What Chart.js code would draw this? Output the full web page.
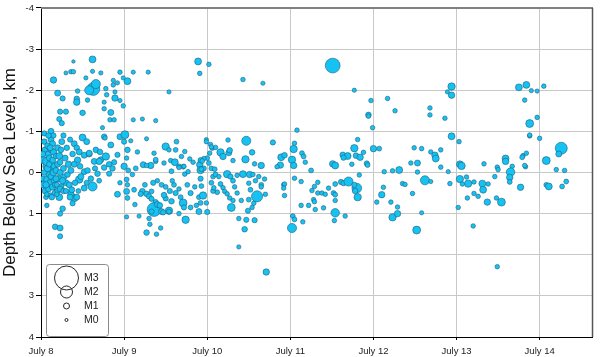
<!DOCTYPE html>
<html><head><meta charset="utf-8">
<script src="https://cdn.jsdelivr.net/npm/chart.js@4.4.1/dist/chart.umd.min.js"></script>
<style>html,body{margin:0;padding:0;background:#fff}#c{display:block}</style>
</head><body>
<canvas id="c" width="600" height="357"></canvas>
<script>
// [day of July (decimal), depth below sea level km, magnitude]
const july8 = [
[8.62,-2.75,1.2],[8.39,-2.7,0.2],[8.36,-2.45,0.6],[8.39,-2.45,0.6],[8.30,-2.42,0.4],[8.15,-2.25,1.1],
[8.62,-2.46,0.5],[8.72,-2.42,0.5],[8.63,-2.03,2.1],[8.66,-2.15,1.6],[8.58,-2.0,1.6],[8.54,-2.3,0.5],
[8.44,-1.98,0.6],[8.2,-1.93,1.0],[8.26,-1.8,0.8],[8.43,-1.79,0.9],[8.43,-1.71,1.1],[8.56,-1.76,0.6],
[8.78,-2.04,0.6],[8.79,-1.89,0.6],[8.76,-1.71,0.5],[8.89,-1.81,1.1],[8.89,-1.96,0.5],[8.87,-2.13,0.6],
[8.87,-2.24,0.5],[8.92,-2.18,0.5],[8.95,-2.44,0.6],[8.99,-2.3,0.5],[8.95,-1.75,0.5],[8.99,-1.62,0.6],
[8.23,-1.48,0.8],[8.3,-1.48,0.8],[8.5,-1.45,0.9],[8.76,-1.55,0.6],[8.84,-1.46,1.0],[8.83,-1.28,0.6],
[8.88,-1.28,0.6],[8.22,-1.3,0.8],[8.25,-1.2,0.8],[8.74,-1.09,0.5],[8.12,-1.0,1.0],[8.76,-0.87,0.9],
[8.77,-0.84,0.6],[8.95,-0.87,1.0],
[8.03,-0.3,1.3],[8.04,0.0,1.0],[8.03,0.3,1.2],[8.05,-0.55,1.0],[8.06,-0.15,1.1],[8.02,0.15,0.8],
[8.05,0.45,1.0],[8.04,-0.75,0.9],[8.06,0.6,0.7],[8.07,-0.27,1.5],[8.08,0.17,1.4],[8.13,-0.1,1.3],
[8.08,-0.65,1.0],[8.09,-0.45,1.1],[8.1,-0.35,1.0],[8.08,-0.1,1.2],[8.1,0.05,1.0],[8.11,0.25,1.1],
[8.09,0.4,1.0],[8.12,-0.8,1.0],[8.12,-0.55,0.9],[8.1,-0.2,0.9],[8.11,0.55,0.7],[8.07,0.8,0.6],
[8.12,0.1,1.0],[8.14,-0.7,1.0],[8.15,-0.5,1.1],[8.14,-0.3,1.0],[8.16,-0.15,1.1],[8.15,0.0,1.2],
[8.16,0.2,1.0],[8.14,0.35,1.1],[8.17,0.5,1.0],[8.15,-0.9,0.8],[8.18,-0.4,0.9],[8.18,-0.05,1.0],
[8.17,0.3,0.9],[8.13,0.6,0.9],[8.2,-0.6,1.0],[8.22,-0.4,1.2],[8.2,-0.2,1.0],[8.23,0.0,1.0],
[8.21,0.15,1.1],[8.24,0.35,1.0],[8.2,0.45,0.9],[8.25,-0.75,1.0],[8.24,-0.55,0.9],[8.23,-0.25,0.9],
[8.22,0.6,1.2],[8.19,0.3,0.8],[8.27,-0.1,1.0],[8.28,0.1,0.9],[8.29,-0.35,1.0],[8.3,0.25,1.0],
[8.31,-0.6,0.9],[8.33,-0.2,1.1],[8.32,0.05,0.9],[8.34,0.3,1.0],[8.27,-0.9,0.8],[8.35,-0.8,0.8],
[8.36,-0.05,1.0],[8.02,-0.45,1.0],[8.06,0.3,1.1],[8.04,-0.95,0.8],[8.26,0.2,1.1],[8.18,0.15,1.0],
[8.11,-0.6,1.0],[8.09,-0.9,0.9],
[8.62,0.34,1.6],[8.46,0.17,1.3],[8.4,0.62,1.3],[8.36,0.53,1.1],[8.5,-0.85,1.2],[8.55,-0.75,1.0],
[8.4,-0.7,1.0],[8.43,-0.6,0.9],[8.46,-0.5,1.0],[8.38,-0.45,0.9],[8.44,-0.3,1.1],[8.52,-0.42,1.0],
[8.58,-0.45,1.0],[8.64,-0.27,1.0],[8.72,-0.31,1.0],[8.76,-0.12,0.9],[8.52,-0.02,1.0],[8.56,-0.05,0.9],
[8.68,0.03,0.9],[8.82,0.03,0.8],[8.23,0.4,1.0],[8.27,0.45,0.9],[8.37,0.42,1.0],[8.52,0.38,1.0],
[8.92,0.53,1.0],[8.07,0.53,0.6],[8.19,0.53,0.6],[8.26,0.88,0.9],[8.23,1.0,0.8],[8.17,1.32,0.9],
[8.23,1.35,1.0],[8.23,1.55,0.8],[8.35,0.6,1.0],[8.43,0.6,1.0],[8.38,0.75,0.8],[8.58,-0.47,1.0],
[8.66,-0.55,0.9],[8.71,-0.5,0.9],[8.78,-0.39,1.3],[8.7,-0.27,1.1],[8.82,-0.2,0.9],[8.86,-0.1,0.9],
[8.88,-0.25,0.8],[8.84,-0.67,1.0],[8.92,-0.43,0.8],[8.48,0.1,1.0],[8.6,0.15,0.9],[8.55,0.25,0.8],
[8.7,0.2,0.7],[8.65,-0.1,0.8],[8.47,-0.15,0.9],[8.4,-0.2,1.0],[8.41,0.25,0.9],[8.3,0.45,0.8],
[8.45,0.45,0.7],[8.95,0.25,0.6]
];
const july9 = [
[9.04,-2.22,1.2],[9.11,-2.44,0.5],[9.29,-2.44,0.5],[9.54,-1.96,0.5],[9.11,-1.28,0.5],[9.22,-1.3,0.5],
[9.38,-1.26,0.5],[9.01,-0.92,1.4],[9.27,-0.82,0.5],
[9.03,-0.35,0.6],[9.0,-0.75,0.8],[9.04,-0.55,0.9],[9.16,-0.5,0.6],[9.36,-0.47,0.6],[9.23,-0.19,1.0],
[9.14,-0.1,0.7],[9.0,-0.15,1.1],[9.38,-0.27,0.6],[9.66,-0.15,0.7],[9.71,-0.14,0.7],[9.57,-0.03,0.7],
[9.08,-0.77,0.5],[9.5,-0.63,1.3],[9.63,-0.75,0.7],[9.62,-0.55,0.7],[9.56,-0.29,0.6],[9.61,-0.25,1.2],
[9.66,-0.12,0.6],[9.72,-0.15,0.6],[9.73,0.04,0.6],[9.77,-0.02,0.6],[9.91,-0.19,1.1],[9.92,-0.06,1.3],
[9.96,-0.1,0.7],[9.32,-0.17,1.1],[9.27,-0.17,0.6],[9.38,-0.31,0.7],[9.48,-0.23,0.6],[9.69,-0.39,0.6],
[9.73,-0.51,0.6],[9.79,-0.33,0.6],[9.83,-0.25,0.6],[9.54,-0.55,0.6],[9.05,-0.05,0.7],[9.1,0.05,0.6],
[9.03,0.17,0.7],[9.04,0.3,0.6],[9.03,0.46,1.0],[9.04,0.62,0.7],[9.12,0.42,0.7],[9.13,0.78,0.6],
[9.03,1.08,0.5],[9.18,1.06,0.5],[9.22,0.46,1.0],[9.2,0.52,0.8],[9.27,0.52,0.9],[9.3,0.58,0.8],
[9.33,0.46,0.7],[9.33,0.64,0.8],[9.38,0.72,0.8],[9.36,0.9,2.2],[9.4,0.78,1.0],[9.45,0.95,1.0],
[9.33,0.95,0.8],[9.43,0.8,0.9],[9.54,0.93,1.3],[9.47,0.97,0.8],[9.3,1.12,0.6],[9.31,1.26,0.6],
[9.27,1.46,0.9],[9.39,1.5,0.6],[9.44,1.35,0.6],[9.5,0.63,0.8],[9.57,0.7,0.9],[9.54,0.95,0.7],
[9.66,1.0,0.6],[9.71,0.74,1.4],[9.72,0.85,0.8],[9.74,1.15,1.3],[9.8,0.85,0.7],[9.87,0.8,0.6],
[9.5,0.35,0.7],[9.55,0.45,0.8],[9.6,0.3,0.7],[9.62,0.5,0.8],[9.66,0.4,0.6],[9.45,0.3,0.7],
[9.4,0.2,0.6],[9.35,0.25,0.8],[9.76,0.3,0.7],[9.8,0.5,0.8],[9.85,0.35,0.6],[9.68,0.6,0.7],
[9.58,0.2,0.6],[9.25,0.3,0.7],[9.48,0.55,0.9],[9.9,0.6,0.7]
];
const july10 = [
[9.89,-2.7,1.2],[10.02,-2.63,0.6],[9.91,-2.41,0.6],[10.43,-2.26,0.6],[10.67,-2.17,0.5],
[10.0,-0.35,0.7],[10.02,-0.23,0.7],[10.06,-0.59,0.6],[9.99,-0.8,0.5],
[9.99,-0.75,0.6],[10.04,-0.68,0.6],[10.1,-0.61,0.6],[10.25,-0.79,0.6],[10.47,-0.77,1.6],[10.16,-0.49,1.3],
[10.19,-0.39,1.1],[10.26,-0.48,1.0],[10.27,-0.54,0.9],[10.03,-0.47,0.6],[9.96,-0.34,0.6],[10.31,-0.29,0.6],
[10.46,-0.32,1.3],[10.54,-0.49,0.9],[10.57,-0.21,0.6],[10.65,-0.17,1.1],[10.79,-0.73,0.8],[10.89,-0.37,1.2],
[10.93,-0.42,0.9],[10.88,-0.18,1.1],[10.84,-0.14,0.6],[9.92,-0.3,0.8],[9.94,-0.28,0.7],[9.93,-0.08,0.7],
[10.05,-0.1,0.7],[10.09,-0.08,0.7],[10.05,-0.62,0.6],
[9.92,0.15,0.8],[9.93,0.33,0.7],[9.95,0.56,1.3],[9.92,0.74,0.7],[9.99,0.74,0.6],[9.9,0.95,1.0],
[10.0,0.96,0.8],[10.07,0.1,0.7],[10.05,0.25,0.7],[10.1,0.05,0.7],[10.14,0.1,0.6],[10.16,0.28,0.7],
[10.19,0.37,0.6],[10.21,0.46,0.6],[10.24,0.52,0.6],[10.12,0.48,0.7],[10.07,0.45,0.7],[10.08,0.37,0.6],
[10.24,0.04,1.3],[10.28,0.1,0.8],[10.31,0.2,0.7],[10.33,0.35,0.6],[10.36,0.5,0.6],[10.31,0.68,0.6],
[10.41,0.68,0.6],[10.29,0.85,1.4],[10.27,0.62,0.6],[10.43,0.04,1.2],[10.51,0.05,1.1],[10.5,0.26,0.6],
[10.52,0.42,0.7],[10.5,0.66,0.7],[10.49,0.93,0.8],[10.47,1.15,0.8],[10.45,1.38,0.9],[10.6,0.58,1.9],
[10.65,0.3,0.7],[10.65,0.35,0.6],[10.7,0.53,0.6],[10.69,0.16,0.6],[10.57,1.16,0.8],[10.38,1.12,0.6],
[10.38,1.81,0.5],[10.71,2.42,1.1],[10.36,0.07,0.6],[10.56,0.75,0.6],[10.54,0.85,0.6],[10.58,0.2,0.6],
[10.55,0.05,0.6],[10.62,0.1,0.6],[10.92,0.3,0.6],[10.93,0.28,0.6],[10.92,0.38,0.6],[10.93,0.56,0.6]
];
const july11 = [
[11.51,-2.6,2.3],[11.77,-2.0,0.5],[11.97,-1.75,0.6],[11.94,-1.4,0.9],[11.94,-1.37,0.6],[11.99,-1.09,0.6],
[11.08,-1.03,0.6],[11.05,-0.71,0.6],[11.04,-0.57,1.3],[11.02,-0.31,1.3],[11.04,-0.17,1.1],[11.14,-0.47,0.7],
[11.16,-0.39,0.7],[11.18,-0.25,0.6],[11.25,-0.05,0.7],[11.51,-0.21,1.1],[11.54,-0.17,1.2],[11.63,-0.43,0.9],
[11.69,-0.4,1.2],[11.64,-0.36,0.8],[11.77,-0.59,1.3],[11.81,-0.8,0.6],[11.79,-0.41,0.9],[11.84,-0.37,1.1],
[11.88,-0.49,0.6],[11.92,-0.22,0.8],[11.93,-0.18,0.7],[11.83,0.06,0.6],[12.0,-0.58,1.1],[12.07,-0.58,0.7],
[11.74,-0.2,0.6],
[11.05,0.14,0.6],[11.13,0.22,0.6],[11.03,1.06,0.7],[11.05,1.14,0.7],[11.02,1.35,1.6],[11.15,1.2,0.6],
[11.13,0.8,0.6],[11.22,0.8,0.6],[11.26,0.44,0.6],[11.29,0.34,0.6],[11.33,0.24,0.6],[11.28,0.66,0.6],
[11.29,0.71,0.6],[11.33,0.5,0.6],[11.38,0.5,0.6],[11.42,0.53,0.6],[11.46,0.38,0.6],[11.4,0.86,0.6],
[11.3,0.9,0.6],[11.54,0.28,0.7],[11.52,0.5,0.7],[11.54,0.54,0.7],[11.54,0.68,0.6],[11.54,0.98,1.5],
[11.53,1.17,0.6],[11.66,1.06,0.6],[11.61,0.23,0.8],[11.64,0.26,0.8],[11.7,0.22,1.6],[11.8,0.38,1.7],
[11.81,0.6,1.3],[11.78,0.45,0.9],[11.77,0.3,0.8]
];
const july12 = [
[12.13,-0.02,0.6],[12.23,-0.04,0.6],[12.17,-1.8,0.6],[12.26,-1.5,0.6],[12.1,0.54,1.1],[12.04,0.72,0.6],
[12.12,0.36,0.6],[12.21,0.72,0.6],[12.23,1.09,1.3],[12.29,0.84,0.6],[12.29,1.0,1.1],[12.94,-2.09,1.3],
[12.89,-1.96,0.5],[12.94,-1.88,1.1],[12.68,-1.57,0.6],[12.68,-1.4,0.6],[12.86,-1.32,0.6],[12.94,-0.88,1.2],
[12.49,-0.6,0.6],[12.58,-0.58,0.6],[12.69,-0.5,0.6],[12.74,-0.42,1.1],[12.75,-0.34,1.2],[12.81,-0.55,0.6],
[12.45,-0.23,0.6],[12.53,-0.23,1.0],[12.31,-0.06,1.2],[12.53,-0.01,0.6],[12.81,-0.13,0.6],[12.9,-0.02,0.5],
[12.35,0.27,0.6],[12.38,0.29,0.6],[12.62,0.19,1.6],[12.69,0.22,0.5],[12.47,0.51,0.6],[12.58,0.98,0.5],
[12.52,1.4,1.4],[12.92,0.27,0.6]
];
const july13 = [
[13.03,-0.75,0.6],[13.04,-0.2,1.2],[13.06,-0.16,1.3],[13.33,-0.21,0.6],[13.49,-0.13,0.6],[13.5,-0.07,0.6],
[13.59,-0.34,1.2],[13.59,-0.27,1.1],[13.67,-0.15,0.6],[13.8,-0.41,0.6],[13.79,-0.37,0.7],[13.84,-0.47,0.6],
[13.83,-0.14,0.6],[13.82,-0.17,0.6],[13.65,-0.01,1.5],[13.88,-0.89,0.6],[14.0,-0.83,0.6],[14.08,-0.29,1.4],
[14.26,-0.59,2.0],[14.23,-0.45,1.0],[14.2,-0.07,0.6],[14.3,-0.05,0.6],[13.75,-2.07,1.2],[13.84,-2.13,1.2],
[13.9,-1.99,0.5],[13.97,-1.98,0.5],[14.05,-2.1,0.6],[13.82,-1.76,0.6],[13.97,-1.34,0.6],[13.88,-1.19,1.4],
[13.88,-0.91,0.6],[13.04,0.16,1.3],[13.07,0.28,0.6],[13.12,0.11,0.6],[13.14,0.27,1.3],[13.21,0.23,0.6],
[13.21,0.51,0.6],[13.26,0.58,0.6],[13.13,0.62,0.6],[13.31,0.27,1.2],[13.32,0.42,1.2],[13.38,0.28,0.6],
[13.37,0.72,1.1],[13.46,0.1,0.6],[13.48,0.62,0.6],[13.54,0.72,1.4],[13.64,0.12,1.1],[13.64,0.23,0.7],
[13.77,0.36,1.1],[14.08,0.3,0.7],[14.11,0.34,1.2],[14.27,0.34,0.7],[14.32,0.22,0.7],[13.02,0.85,0.6],
[13.2,1.3,0.6],[13.49,2.29,0.6]
];
const dayTicks = [8, 9, 10, 11, 12, 13, 14];
const dayLabels = ['July 8', 'July 9', 'July 10', 'July 11', 'July 12', 'July 13', 'July 14'];
const depthTicks = [-4, -3, -2, -1, 0, 1, 2, 3, 4];
const legendMags = [3, 2, 1, 0];
const legendLabels = ['M3', 'M2', 'M1', 'M0'];

const FONT = '"Liberation Sans", Arial, sans-serif';
const radiusOf = m => 1.5 * Math.pow(2, m);
const allQuakes = [].concat(july8, july9, july10, july11, july12, july13);

const framePlugin = {
  id: 'frame',
  afterDraw(chart) {
    const {ctx, chartArea: a} = chart;
    ctx.save();
    ctx.strokeStyle = '#808080';
    ctx.lineWidth = 2;
    ctx.beginPath(); ctx.moveTo(a.left, a.top); ctx.lineTo(a.right + 1, a.top); ctx.stroke();
    ctx.strokeStyle = '#555';
    ctx.lineWidth = 1.5;
    ctx.beginPath(); ctx.moveTo(a.right + 0.5, a.top); ctx.lineTo(a.right + 0.5, a.bottom); ctx.stroke();
    // legend
    const bx = a.left + 5, by = a.top + 256, bw = 62, bh = 72;
    ctx.fillStyle = '#fff';
    ctx.strokeStyle = '#8a8a8a';
    ctx.lineWidth = 1;
    ctx.beginPath();
    if (ctx.roundRect) ctx.roundRect(bx + 0.5, by + 0.5, bw, bh, 3); else ctx.rect(bx + 0.5, by + 0.5, bw, bh);
    ctx.fill(); ctx.stroke();
    const ys = [by + 14, by + 28, by + 42, by + 56];
    ctx.strokeStyle = '#111';
    ctx.lineWidth = 0.9;
    legendMags.forEach((m, i) => {
      ctx.beginPath();
      ctx.arc(bx + 20.5, ys[i], radiusOf(m), 0, Math.PI * 2);
      ctx.stroke();
    });
    ctx.fillStyle = '#222';
    ctx.font = '10.5px ' + FONT;
    ctx.textBaseline = 'middle';
    ctx.textAlign = 'left';
    legendLabels.forEach((t, i) => ctx.fillText(t, bx + 38, ys[i] + 0.5));
    ctx.restore();
  }
};

new Chart(document.getElementById('c'), {
  type: 'bubble',
  data: {
    datasets: [{
      data: allQuakes.map(q => ({x: q[0], y: q[1], r: radiusOf(q[2])})),
      backgroundColor: '#16C2F2',
      borderColor: '#1c5f7c',
      borderWidth: 0.6
    }]
  },
  options: {
    responsive: false,
    animation: false,
    events: [],
    layout: {padding: {top: 5, right: 2, left: 0, bottom: 0}},
    plugins: {legend: {display: false}, tooltip: {enabled: false}},
    scales: {
      x: {
        type: 'linear', min: 8, max: 14.63,
        afterBuildTicks: s => { s.ticks = dayTicks.map(v => ({value: v})); },
        afterFit: s => { s.height = 20; s.paddingLeft = 0; s.paddingRight = 0; },
        ticks: {
          callback: v => dayLabels[dayTicks.indexOf(v)],
          font: {family: FONT, size: 9.5}, color: '#222', padding: 6, maxRotation: 0
        },
        grid: {color: '#c8c8c8', lineWidth: 1, tickLength: 3, tickColor: '#000', tickWidth: 1},
        border: {color: '#000', width: 1}
      },
      y: {
        type: 'linear', min: -4, max: 4, reverse: true,
        afterBuildTicks: s => { s.ticks = depthTicks.map(v => ({value: v})); },
        afterFit: s => { s.width = 41; s.paddingTop = 0; s.paddingBottom = 0; },
        ticks: {
          callback: v => String(v),
          font: {family: FONT, size: 9.5}, color: '#222', padding: 2
        },
        grid: {color: '#c8c8c8', lineWidth: 1, tickLength: 5, tickColor: '#000', tickWidth: 1},
        border: {color: '#000', width: 1},
        title: {display: true, text: 'Depth Below Sea Level, km', font: {family: FONT, size: 17}, color: '#111', padding: 0}
      }
    }
  },
  plugins: [framePlugin]
});
</script>
</body></html>
